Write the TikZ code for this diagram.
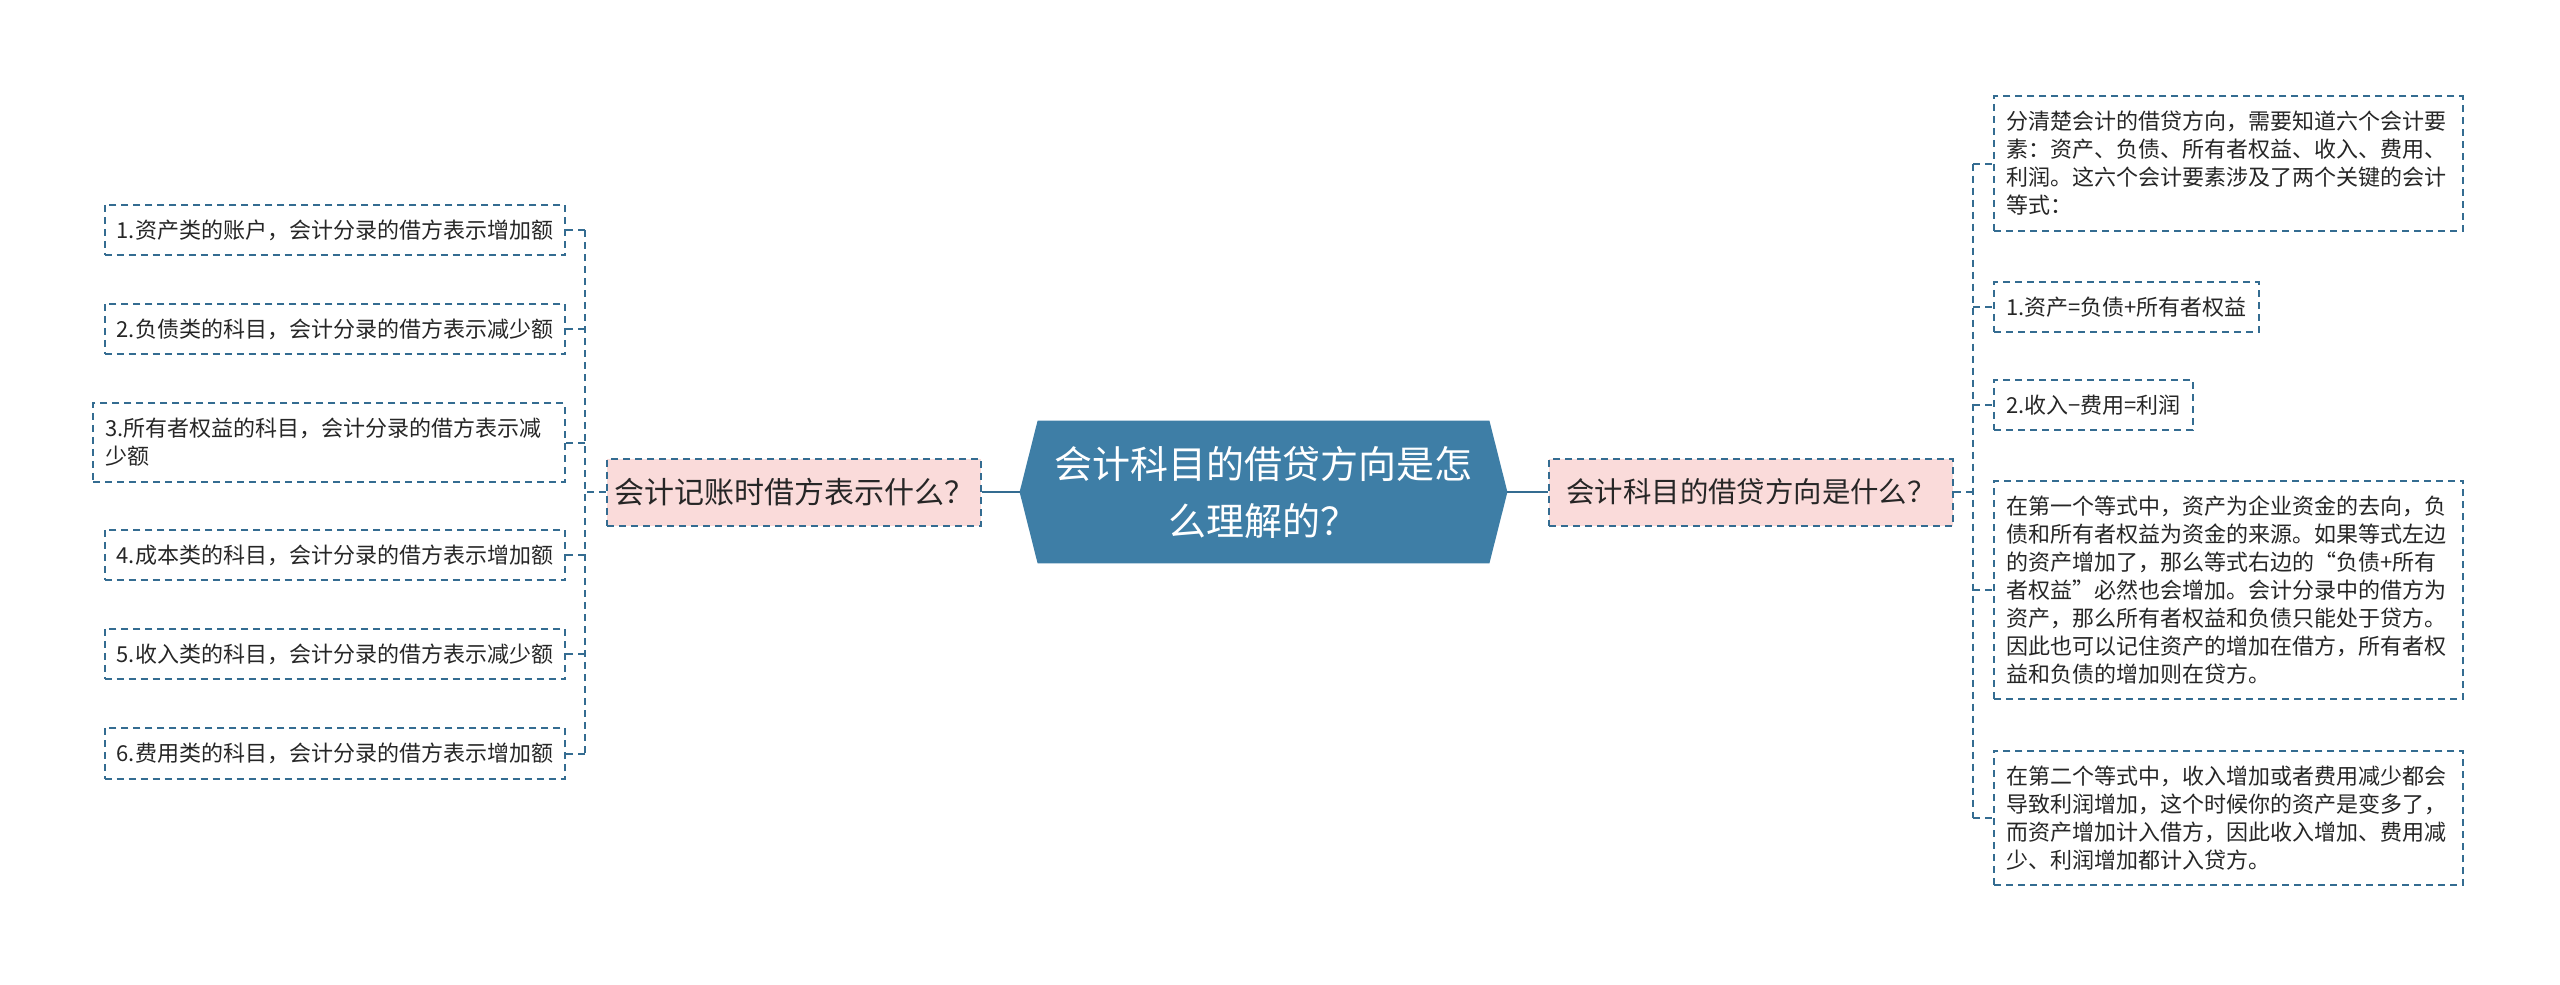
\documentclass[tikz,border=0pt]{standalone}
\usepackage{fontspec}
\newfontfamily\cjk{Noto Sans CJK SC}
\usetikzlibrary{backgrounds,calc}
\definecolor{rootblue}{RGB}{62,126,166}
\definecolor{linkblue}{RGB}{52,108,145}
\definecolor{pinkfill}{RGB}{250,219,218}
\definecolor{txt}{RGB}{38,38,38}
\begin{document}
\begin{tikzpicture}[x=0.5pt,y=-0.5pt,
 conn/.style={draw=linkblue,line width=1pt},
 dconn/.style={draw=linkblue,line width=1pt,dash pattern=on 3.5pt off 2.5pt},
 leaf/.style={dconn,font=\cjk\fontsize{11pt}{14pt}\selectfont,text=txt,align=left,inner xsep=6pt,inner ysep=7.5pt},
 wide/.style={leaf,text width=222.5pt},
 mid/.style={dconn,fill=pinkfill,text=txt,minimum height=33.5pt,inner sep=0pt},
 rootnode/.style={font=\cjk\fontsize{19pt}{28.5pt}\selectfont,text=white,align=center,minimum width=243.5pt,minimum height=71pt,inner sep=0pt}]
\useasboundingbox (0,0) rectangle (2560,985);

\node[rootnode] (root) at (1263.5,492) {会计科目的借贷方向是怎\\么理解的？};
\begin{scope}[on background layer]
\fill[rootblue] ($(root.north west)+(18,0)$) -- ($(root.north east)+(-18,0)$) -- (root.east) -- ($(root.south east)+(-18,0)$) -- ($(root.south west)+(18,0)$) -- (root.west) -- cycle;
\end{scope}

\node[mid,minimum width=187pt,font=\cjk\fontsize{15pt}{18pt}\selectfont] (lp) at (794,492) {会计记账时借方表示什么？};
\node[mid,minimum width=202pt,font=\cjk\fontsize{14.2pt}{18pt}\selectfont] (rp) at (1751,492) {会计科目的借贷方向是什么？};

% left leaves
\node[leaf,anchor=east] (l1) at (566,230) {1.资产类的账户，会计分录的借方表示增加额};
\node[leaf,anchor=east] (l2) at (566,329) {2.负债类的科目，会计分录的借方表示减少额};
\node[leaf,anchor=east,text width=224pt] (l3) at (566,442.5) {3.所有者权益的科目，会计分录的借方表示减\\少额};
\node[leaf,anchor=east] (l4) at (566,555) {4.成本类的科目，会计分录的借方表示增加额};
\node[leaf,anchor=east] (l5) at (566,654) {5.收入类的科目，会计分录的借方表示减少额};
\node[leaf,anchor=east] (l6) at (566,753.5) {6.费用类的科目，会计分录的借方表示增加额};

% right leaves
\node[wide,anchor=west] (r1) at (1993,163.5) {分清楚会计的借贷方向，需要知道六个会计要\\素：资产、负债、所有者权益、收入、费用、\\利润。这六个会计要素涉及了两个关键的会计\\等式：};
\node[leaf,anchor=west] (r2) at (1993,307) {1.资产=负债+所有者权益};
\node[leaf,anchor=west] (r3) at (1993,405) {2.收入−费用=利润};
\node[wide,anchor=west] (r4) at (1993,590) {在第一个等式中，资产为企业资金的去向，负\\债和所有者权益为资金的来源。如果等式左边\\的资产增加了，那么等式右边的“负债+所有\\者权益”必然也会增加。会计分录中的借方为\\资产，那么所有者权益和负债只能处于贷方。\\因此也可以记住资产的增加在借方，所有者权\\益和负债的增加则在贷方。};
\node[wide,anchor=west] (r5) at (1993,818) {在第二个等式中，收入增加或者费用减少都会\\导致利润增加，这个时候你的资产是变多了，\\而资产增加计入借方，因此收入增加、费用减\\少、利润增加都计入贷方。};

% connectors
\draw[conn] (root.west) -- (lp.east);
\draw[conn] (root.east) -- (rp.west);

\coordinate (lj) at (585,492);
\draw[dconn] (lp.west) -- (lj);
\draw[dconn] (lj |- l1.east) -- (lj |- l6.east);
\foreach \n in {l1,l2,l3,l4,l5,l6} \draw[dconn] (lj |- \n.east) -- (\n.east);

\coordinate (rj) at (1973,492);
\draw[dconn] (rp.east) -- (rj);
\draw[dconn] (rj |- r1.west) -- (rj |- r5.west);
\foreach \n in {r1,r2,r3,r4,r5} \draw[dconn] (rj |- \n.west) -- (\n.west);
\end{tikzpicture}
\end{document}
